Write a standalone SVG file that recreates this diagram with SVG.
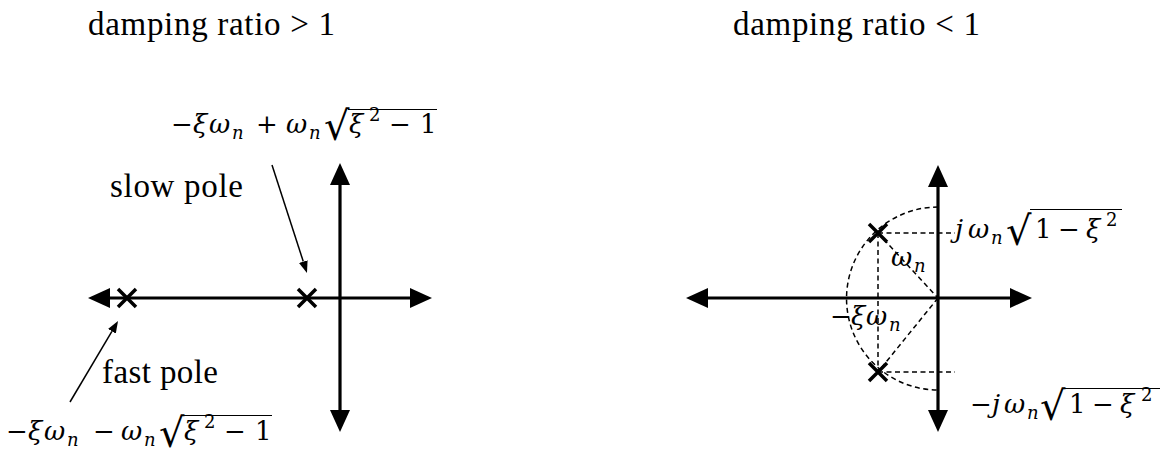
<svg xmlns="http://www.w3.org/2000/svg" width="1160" height="454" viewBox="0 0 1160 454">
<style>
  .title { font-family: "Liberation Serif", "DejaVu Serif", serif; font-size: 33px; fill: #000; }
  .m { font-family: "DejaVu Serif", "Liberation Serif", serif; font-size: 26px; fill: #000; }
  .i { font-style: italic; }
  .sub { font-family: "DejaVu Serif", "Liberation Serif", serif; font-size: 18px; font-style: italic; fill: #000; }
  .sup { font-family: "DejaVu Serif", "Liberation Serif", serif; font-size: 18px; fill: #000; }
  .rad { font-family: "DejaVu Serif", "Liberation Serif", serif; font-size: 40px; fill: #000; }
  .axis { stroke: #000; stroke-width: 3.2; fill: none; }
  .cross { stroke: #000; stroke-width: 3.5; fill: none; }
  .thin { stroke: #000; stroke-width: 1.5; fill: none; }
  .dash { stroke: #000; stroke-width: 1.5; fill: none; stroke-dasharray: 5 3.5; }
  .rule { stroke: #000; stroke-width: 1.2; }
</style>
<defs>
  <marker id="axhead" viewBox="0 0 22 20" refX="0" refY="10" markerWidth="22" markerHeight="20" markerUnits="userSpaceOnUse" orient="auto-start-reverse">
    <path d="M0,0 L22,10 L0,20 z" fill="#000"/>
  </marker>
  <marker id="smallhead" viewBox="0 0 12 9" refX="0" refY="4.5" markerWidth="12" markerHeight="9" markerUnits="userSpaceOnUse" orient="auto">
    <path d="M0,0 L12,4.5 L0,9 z" fill="#000"/>
  </marker>
</defs>

<g id="title-left"><text class="title" x="88" y="35" textLength="247" lengthAdjust="spacing">damping ratio &gt; 1</text></g>
<g id="title-right"><text class="title" x="733" y="35" textLength="247" lengthAdjust="spacing">damping ratio &lt; 1</text></g>

<!-- Left s-plane -->
<g id="left-axes">
  <line class="axis" x1="110" y1="298" x2="410" y2="298" marker-start="url(#axhead)" marker-end="url(#axhead)"/>
  <line class="axis" x1="340" y1="410" x2="340" y2="185" marker-start="url(#axhead)" marker-end="url(#axhead)"/>
</g>
<g id="fast-pole">
  <path class="cross" d="M118,289 L136,307 M136,289 L118,307"/>
</g>
<g id="slow-pole">
  <path class="cross" d="M298,289 L316,307 M316,289 L298,307"/>
</g>
<g id="label-slow"><text class="title" x="110" y="197" textLength="133" lengthAdjust="spacing">slow pole</text></g>
<g id="label-fast"><text class="title" x="102" y="383" textLength="116" lengthAdjust="spacing">fast pole</text></g>

<g id="label-slow-value">
  <text class="m" x="171" y="133">−</text>
  <text class="m i" x="193" y="133">ξ</text>
  <text class="m i" x="209" y="133">ω</text>
  <text class="sub" x="232" y="139">n</text>
  <text class="m" x="256" y="133">+</text>
  <text class="m i" x="286" y="133">ω</text>
  <text class="sub" x="309" y="139">n</text>
  <text class="rad" x="324" y="140">√</text>
  <line class="rule" x1="348" y1="109.5" x2="437" y2="109.5"/>
  <text class="m i" x="349" y="133">ξ</text>
  <text class="sup" x="369" y="121">2</text>
  <text class="m" x="389" y="133">−</text>
  <text class="m" x="420" y="133">1</text>
</g>

<g id="label-fast-value">
  <text class="m" x="6" y="440">−</text>
  <text class="m i" x="28" y="440">ξ</text>
  <text class="m i" x="44" y="440">ω</text>
  <text class="sub" x="67" y="446">n</text>
  <text class="m" x="93" y="440">−</text>
  <text class="m i" x="121" y="440">ω</text>
  <text class="sub" x="144" y="446">n</text>
  <text class="rad" x="159" y="447">√</text>
  <line class="rule" x1="183" y1="415.5" x2="272" y2="415.5"/>
  <text class="m i" x="184" y="440">ξ</text>
  <text class="sup" x="204" y="428">2</text>
  <text class="m" x="224" y="440">−</text>
  <text class="m" x="255" y="440">1</text>
</g>

<!-- Right s-plane -->
<g id="right-axes">
  <line class="axis" x1="708" y1="298" x2="1010" y2="298" marker-start="url(#axhead)" marker-end="url(#axhead)"/>
  <line class="axis" x1="938" y1="410" x2="938" y2="187" marker-start="url(#axhead)" marker-end="url(#axhead)"/>
</g>
<g id="upper-pole">
  <path class="cross" d="M869,224 L887,242 M887,224 L869,242"/>
</g>
<g id="lower-pole">
  <path class="cross" d="M869,363 L887,381 M887,363 L869,381"/>
</g>

<g id="label-jw">
  <text class="m i" x="955" y="238">j</text>
  <text class="m i" x="968" y="238">ω</text>
  <text class="sub" x="991" y="244">n</text>
  <text class="rad" x="1006" y="245">√</text>
  <line class="rule" x1="1030" y1="209.5" x2="1122" y2="209.5"/>
  <text class="m" x="1035" y="238">1</text>
  <text class="m" x="1058" y="238">−</text>
  <text class="m i" x="1086" y="238">ξ</text>
  <text class="sup" x="1106" y="226">2</text>
</g>
<g id="label-neg-jw">
  <text class="m" x="970" y="413">−</text>
  <text class="m i" x="992" y="413">j</text>
  <text class="m i" x="1004" y="413">ω</text>
  <text class="sub" x="1027" y="419">n</text>
  <text class="rad" x="1040" y="420">√</text>
  <line class="rule" x1="1064" y1="388.5" x2="1160" y2="388.5"/>
  <text class="m" x="1069" y="413">1</text>
  <text class="m" x="1092" y="413">−</text>
  <text class="m i" x="1120" y="413">ξ</text>
  <text class="sup" x="1141" y="401">2</text>
</g>
<g id="label-wn">
  <text class="m i" x="891" y="266">ω</text>
  <text class="sub" x="914" y="272">n</text>
</g>
<g id="label-xiwn">
  <text class="m" x="830" y="325">−</text>
  <text class="m i" x="851" y="325">ξ</text>
  <text class="m i" x="866" y="325">ω</text>
  <text class="sub" x="889" y="331">n</text>
</g>

<g id="connectors">
  <line class="thin" x1="272" y1="165" x2="303.3" y2="261.6" marker-end="url(#smallhead)"/>
  <line class="thin" x1="70" y1="402" x2="111.9" y2="331.3" marker-end="url(#smallhead)"/>
  <path class="dash" d="M938,207 A91,91 0 0 0 938,390"/>
  <line class="dash" x1="878" y1="233" x2="955" y2="233"/>
  <line class="dash" x1="878" y1="372" x2="955" y2="372"/>
  <line class="dash" x1="878" y1="233" x2="878" y2="372"/>
  <line class="dash" x1="878" y1="233" x2="938" y2="298"/>
  <line class="dash" x1="938" y1="298" x2="878" y2="372"/>
</g>
</svg>
